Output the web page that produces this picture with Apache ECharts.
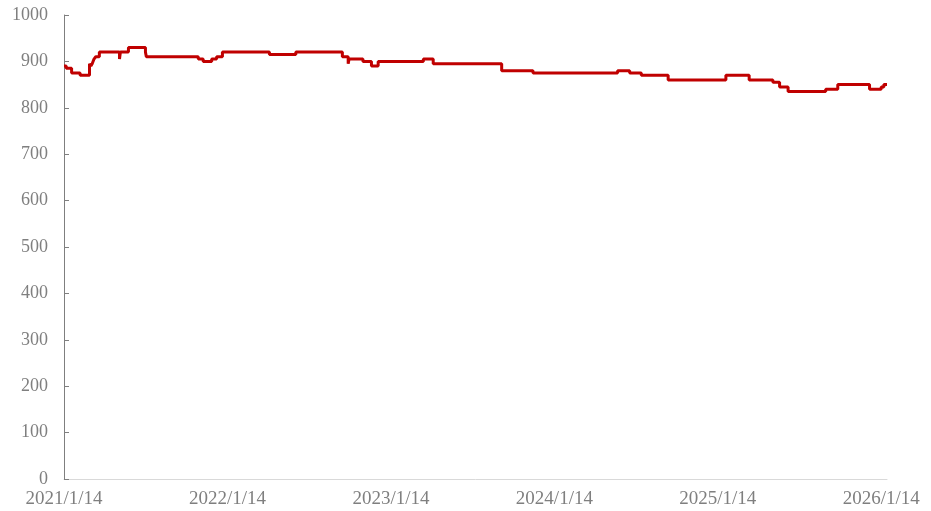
<!DOCTYPE html>
<html>
<head>
<meta charset="utf-8">
<script src="https://cdn.jsdelivr.net/npm/echarts@6/dist/echarts.min.js"></script>
<style>
  html, body { margin: 0; padding: 0; background: #fff; }
  #main { width: 931px; height: 511px; }
</style>
</head>
<body>
<div id="main"></div>
<script>
// change points of the price, each value holds from its date onward
const dates = [
  '2021-01-14', '2021-01-19', '2021-01-31', '2021-02-19', '2021-03-12', '2021-03-15',
  '2021-03-18', '2021-03-22', '2021-03-26', '2021-04-03', '2021-05-18', '2021-05-20',
  '2021-06-07', '2021-07-15', '2021-07-17', '2021-11-10', '2021-11-21', '2021-12-10',
  '2021-12-21', '2022-01-03', '2022-04-18', '2022-06-16', '2022-09-28', '2022-10-11',
  '2022-10-13', '2022-11-13', '2022-12-02', '2022-12-17', '2023-03-28', '2023-04-19',
  '2023-09-19', '2023-11-28', '2024-06-04', '2024-07-01', '2024-07-27', '2024-09-25',
  '2025-02-01', '2025-03-25', '2025-05-17', '2025-06-01', '2025-06-20', '2025-09-12',
  '2025-10-09', '2025-12-19', '2026-01-14', '2026-01-20', '2026-01-27'
];
const prices = [
  890, 885, 875, 870, 895, 890,
  895, 905, 910, 920, 905, 920,
  930, 920, 910, 905, 900, 905,
  910, 920, 915, 920, 910, 895,
  905, 900, 890, 900, 905, 895,
  880, 875, 880, 875, 870, 860,
  870, 860, 855, 845, 835, 840,
  850, 840, 845, 850, 850
];
const yTicks = [0, 100, 200, 300, 400, 500, 600, 700, 800, 900, 1000];

const DAY = 86400000;
const startDate = '2021-01-14';
const endDate = '2026-01-27';
const t0 = Date.parse(startDate);
const toDay = function (d) { return (Date.parse(d) - t0) / DAY; };
const yearStep = 365.25;

const seriesData = dates.map(function (d, i) { return [toDay(d), prices[i]]; });

const myChart = echarts.init(document.getElementById('main'));
const labelFont = 'Liberation Serif, Times New Roman, serif';

myChart.setOption({
  animation: false,
  grid: { left: 64, right: 44, top: 15, bottom: 32, containLabel: false },
  xAxis: {
    type: 'value',
    min: 0,
    max: toDay(endDate),
    interval: yearStep,
    axisLine: { show: true, lineStyle: { color: '#d9d9d9', width: 1 } },
    axisTick: { show: false },
    splitLine: { show: false },
    axisLabel: {
      color: '#7f7f7f',
      fontFamily: labelFont,
      fontSize: 19,
      margin: 11,
      showMaxLabel: false,
      formatter: function (v) {
        const k = v / yearStep;
        if (Math.abs(k - Math.round(k)) > 0.01) return '';
        const d = new Date(t0 + Math.floor(v) * DAY);
        return d.getUTCFullYear() + '/' + (d.getUTCMonth() + 1) + '/' + d.getUTCDate();
      }
    }
  },
  yAxis: {
    type: 'value',
    min: yTicks[0],
    max: yTicks[yTicks.length - 1],
    interval: 100,
    axisLine: { show: true, lineStyle: { color: '#7f7f7f', width: 1 } },
    axisTick: { show: true, inside: true, length: 5, lineStyle: { color: '#7f7f7f' } },
    splitLine: { show: false },
    axisLabel: {
      color: '#7f7f7f',
      fontFamily: labelFont,
      fontSize: 18,
      margin: 16,
      formatter: function (v) { return String(v); }
    }
  },
  series: [
    {
      type: 'line',
      step: 'end',
      data: seriesData,
      showSymbol: false,
      lineStyle: { color: '#c00000', width: 3 },
      itemStyle: { color: '#c00000' }
    }
  ]
});
</script>
</body>
</html>
